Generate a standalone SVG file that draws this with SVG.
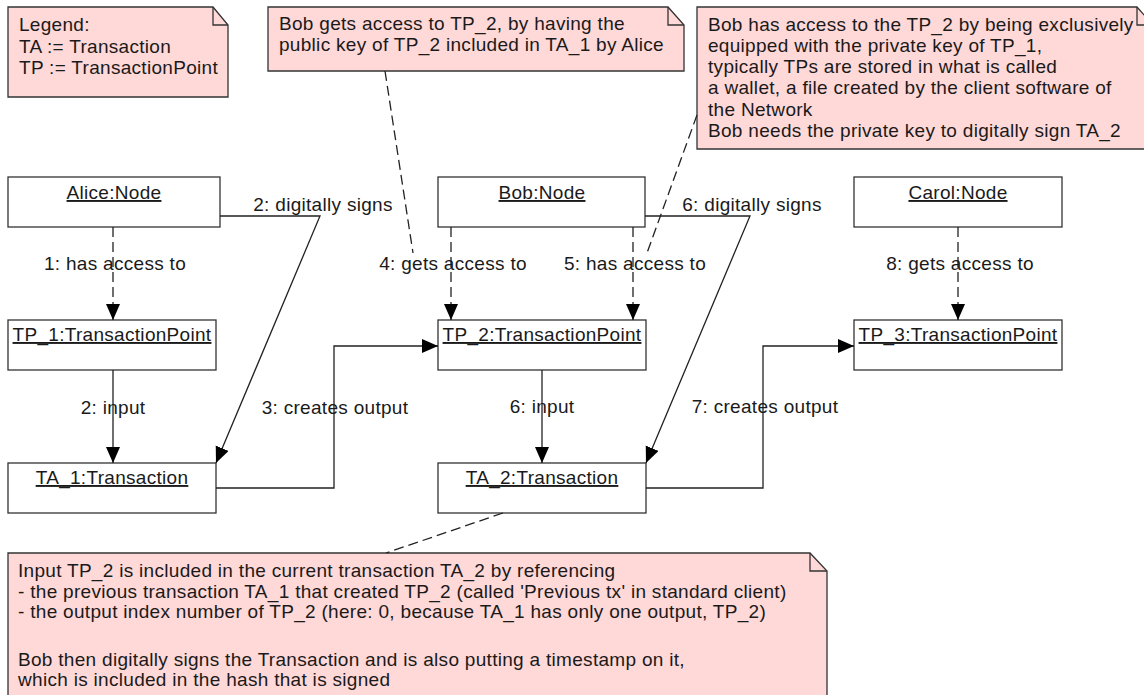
<svg xmlns="http://www.w3.org/2000/svg" width="1144" height="695" viewBox="0 0 1144 695">
<style>
text{font-family:"Liberation Sans",Arial,sans-serif;font-size:19px;fill:#1a1a1a;letter-spacing:0.3px}
.nm{text-anchor:middle;text-decoration:underline}
.lb{text-anchor:middle}
.box{fill:#fff;stroke:#333;stroke-width:1.3}
.note{fill:#ffd8d8;stroke:#333;stroke-width:1.3}
.fold{fill:none;stroke:#333;stroke-width:1.3}
.c{fill:none;stroke:#222;stroke-width:1.3}
.d{fill:none;stroke:#222;stroke-width:1.3;stroke-dasharray:10,5}
</style>
<defs>
<marker id="ah" markerUnits="userSpaceOnUse" markerWidth="17" markerHeight="15" refX="16" refY="7" orient="auto">
<path d="M0,0 L16,7 L0,14 z" fill="#000"/>
</marker>
</defs>

<g id="legend">
<path class="note" d="M8,7 H213 L228,25 V97 H8 Z"/>
<path class="fold" d="M213,7 V25 H228"/>
<text x="19" y="31">Legend:</text>
<text x="19" y="53">TA := Transaction</text>
<text x="19" y="74">TP := TransactionPoint</text>
</g>

<g id="note-bob-gets">
<path class="note" d="M268,7 H668 L684,25 V71 H268 Z"/>
<path class="fold" d="M668,7 V25 H684"/>
<text x="279" y="30">Bob gets access to TP_2, by having the</text>
<text x="279" y="51">public key of TP_2 included in TA_1 by Alice</text>
</g>

<g id="note-bob-has">
<path class="note" d="M697,7 H1137 L1153,25 V149 H697 Z"/>
<path class="fold" d="M1137,7 V25 H1153"/>
<text x="708" y="31">Bob has access to the TP_2 by being exclusively</text>
<text x="708" y="52">equipped with the private key of TP_1,</text>
<text x="708" y="73">typically TPs are stored in what is called</text>
<text x="708" y="94">a wallet, a file created by the client software of</text>
<text x="708" y="116">the Network</text>
<text x="708" y="137">Bob needs the private key to digitally sign TA_2</text>
</g>

<g id="note-input">
<path class="note" d="M8,553 H810 L827,571 V700 H8 Z"/>
<path class="fold" d="M810,553 V571 H827"/>
<text x="18" y="577">Input TP_2 is included in the current transaction TA_2 by referencing</text>
<text x="18" y="598">- the previous transaction TA_1 that created TP_2 (called 'Previous tx' in standard client)</text>
<text x="18" y="618">- the output index number of TP_2 (here: 0, because TA_1 has only one output, TP_2)</text>
<text x="18" y="666">Bob then digitally signs the Transaction and is also putting a timestamp on it,</text>
<text x="18" y="686">which is included in the hash that is signed</text>
</g>

<g id="alice">
<rect class="box" x="8" y="177" width="212" height="50"/>
<text class="nm" x="114" y="199">Alice:Node</text>
</g>
<g id="bob">
<rect class="box" x="438" y="177" width="207" height="50"/>
<text class="nm" x="542" y="199">Bob:Node</text>
</g>
<g id="carol">
<rect class="box" x="854" y="177" width="208" height="50"/>
<text class="nm" x="958" y="199">Carol:Node</text>
</g>
<g id="tp1">
<rect class="box" x="8" y="320" width="208" height="50"/>
<text class="nm" x="112" y="341">TP_1:TransactionPoint</text>
</g>
<g id="tp2">
<rect class="box" x="438" y="320" width="208" height="50"/>
<text class="nm" x="542" y="341">TP_2:TransactionPoint</text>
</g>
<g id="tp3">
<rect class="box" x="854" y="320" width="208" height="50"/>
<text class="nm" x="958" y="341">TP_3:TransactionPoint</text>
</g>
<g id="ta1">
<rect class="box" x="8" y="463" width="208" height="50"/>
<text class="nm" x="112" y="484">TA_1:Transaction</text>
</g>
<g id="ta2">
<rect class="box" x="438" y="463" width="208" height="50"/>
<text class="nm" x="542" y="484">TA_2:Transaction</text>
</g>

<g id="connectors">
<path class="d" d="M385,71 L413,253"/>
<path class="d" d="M697,115 L647,253"/>
<path class="d" d="M503,513 L386,553"/>

<path class="d" d="M113,227 V320" marker-end="url(#ah)"/>
<path class="d" d="M451,227 V320" marker-end="url(#ah)"/>
<path class="d" d="M633,227 V320" marker-end="url(#ah)"/>
<path class="d" d="M958,227 V320" marker-end="url(#ah)"/>

<path class="c" d="M220,216 H320 L216,463" marker-end="url(#ah)"/>
<path class="c" d="M645,216 H750 L646,463" marker-end="url(#ah)"/>
<path class="c" d="M113,370 V463" marker-end="url(#ah)"/>
<path class="c" d="M542,370 V463" marker-end="url(#ah)"/>
<path class="c" d="M216,488 H334 V346 H438" marker-end="url(#ah)"/>
<path class="c" d="M646,488 H763 V346 H854" marker-end="url(#ah)"/>

<text class="lb" x="115" y="270">1: has access to</text>
<text class="lb" x="323" y="211">2: digitally signs</text>
<text class="lb" x="453" y="270">4: gets access to</text>
<text class="lb" x="635" y="270">5: has access to</text>
<text class="lb" x="752" y="211">6: digitally signs</text>
<text class="lb" x="960" y="270">8: gets access to</text>
<text class="lb" x="113" y="414">2: input</text>
<text class="lb" x="335" y="414">3: creates output</text>
<text class="lb" x="542" y="413">6: input</text>
<text class="lb" x="765" y="413">7: creates output</text>
</g>
</svg>
